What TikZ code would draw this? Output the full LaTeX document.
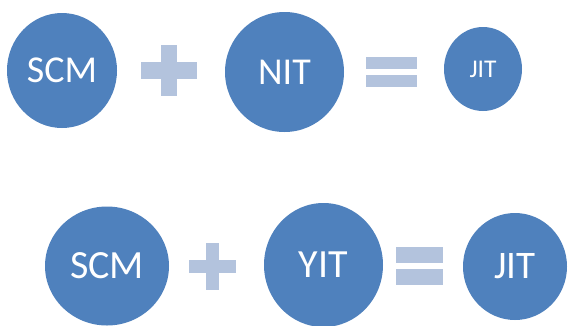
\documentclass[tikz,border=0pt]{standalone}
\usepackage{fontspec}
\setmainfont{Carlito}
\usetikzlibrary{shapes.geometric}
\definecolor{circblue}{HTML}{4F81BD}
\definecolor{oplight}{HTML}{B3C3DD}
\tikzset{
  bubble/.style={ellipse, fill=circblue, draw=none, inner sep=0pt, text=white},
  opbar/.style={fill=oplight, draw=none}
}
\begin{document}
\begin{tikzpicture}[x=1pt, y=-1pt]
\useasboundingbox[fill=white] (0,0) rectangle (568,325);
% top row
\node[bubble, minimum width=110pt, minimum height=115pt, font=\fontsize{38}{40}\selectfont] (scmA) at (62,70.5) {SCM};
\fill[opbar] (141,62) rectangle (197,79);
\fill[opbar] (161,45) rectangle (177,96);
\node[bubble, minimum width=119pt, minimum height=120pt, font=\fontsize{38}{40}\selectfont] (nit) at (284.5,72) {NIT};
\fill[opbar] (366,57) rectangle (417,69);
\fill[opbar] (366,75) rectangle (417,87);
\node[bubble, minimum width=78pt, minimum height=84pt, font=\fontsize{25.5}{27}\selectfont] (jitA) at (483,69) {JIT};
% bottom row
\node[bubble, minimum width=124pt, minimum height=119pt, font=\fontsize{40}{42}\selectfont] (scmB) at (107,266) {SCM};
\fill[opbar] (189,260) rectangle (236,273);
\fill[opbar] (206,243) rectangle (219,290);
\node[bubble, minimum width=119pt, minimum height=124pt, font=\fontsize{40}{42}\selectfont] (yit) at (323.5,265) {YIT};
\fill[opbar] (396,247) rectangle (443,263);
\fill[opbar] (396,269) rectangle (443,285);
\node[bubble, minimum width=104pt, minimum height=107pt, font=\fontsize{39}{41}\selectfont] (jitB) at (515,266.5) {JIT};
\end{tikzpicture}
\end{document}
